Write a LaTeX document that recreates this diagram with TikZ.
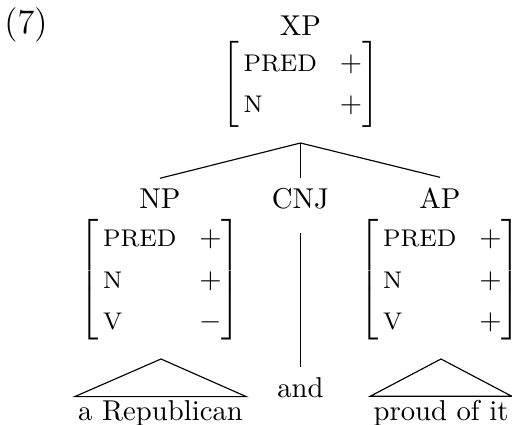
\documentclass[tikz,border=0pt]{standalone}
\usepackage{amsmath}
\usepackage{amssymb}
\usepackage{tikz}
\usetikzlibrary{positioning}

\newcommand{\attr}[1]{\text{\fontsize{8.4pt}{10pt}\selectfont #1}}
\newcommand{\featmat}[1]{$\renewcommand{\arraystretch}{1.2}\left[\begin{array}{@{\,}l@{\hspace{8pt}}c@{}}#1\end{array}\right]$}

\begin{document}
\begin{tikzpicture}[x=0.3484pt,y=0.3484pt,yscale=-1,xscale=1]
\useasboundingbox (0,0) rectangle (512,425);
\tikzset{cat/.style={anchor=base,inner sep=3.33pt},
         fs/.style={inner sep=0pt},
         leaf/.style={anchor=base,inner sep=1pt}}

% Example number
\node [anchor=base] (exnum) at (26,33) {\large (7)};

% Mother node
\node [cat] (xp) at (300.5,35) {XP};
\node [fs] (xpfs) at (300.5,84) {\featmat{\attr{PRED} & + \\ \attr{N} & +}};
\coordinate (xpfoot) at (300.5,143);

% Daughters
\node [cat] (np) at (160,208) {NP};
\node [cat] (cnj) at (300.5,208) {CNJ};
\node [cat] (ap) at (440,208) {AP};
\node [fs] (npfs) at (160,280) {\featmat{\attr{PRED} & + \\ \attr{N} & + \\ \attr{V} & -}};
\node [fs] (apfs) at (440,280) {\featmat{\attr{PRED} & + \\ \attr{N} & + \\ \attr{V} & +}};
\coordinate (cnjtop) at (300.5,233);

% Leaves
\node [leaf] (rep) at (160.5,420) {a Republican};
\node [cat] (and) at (300.5,397) {and};
\node [leaf] (proud) at (441,420) {proud of it};
\coordinate (nptip) at (161,359);
\coordinate (aptip) at (441,359);

% Branches
\draw (xpfoot) -- (np.north);
\draw (xpfoot) -- (cnj.north);
\draw (xpfoot) -- (ap.north);
\draw (cnjtop) -- (and.north);

% Triangles
\draw (nptip) -- (rep.north west) -- (rep.north east) -- cycle;
\draw (aptip) -- (proud.north west) -- (proud.north east) -- cycle;
\end{tikzpicture}
\end{document}
